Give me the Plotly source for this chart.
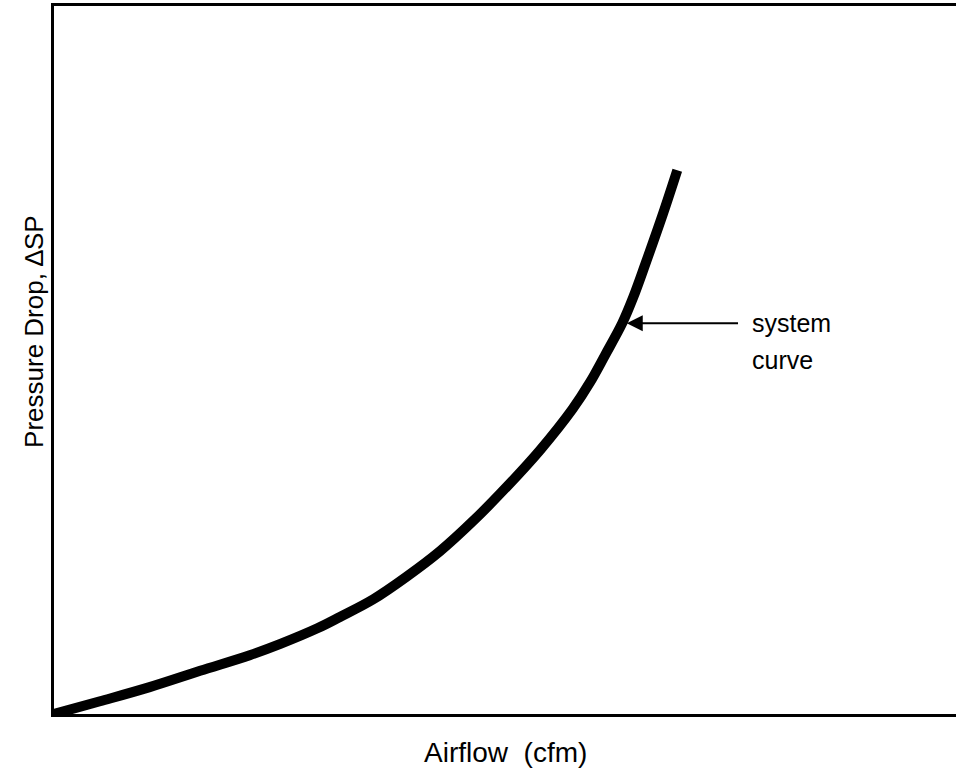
import plotly.graph_objects as go

# System curve: airflow (x, % of axis) vs pressure drop (y, % of axis)
airflow = [0.0, 5.1, 10.6, 16.2, 21.7, 25.1, 29.2, 31.7, 35.4, 39.1, 42.8, 46.5,
           50.2, 53.9, 57.5, 59.4, 61.1, 63.0, 64.2, 65.6, 67.5, 69.1]
pressure_drop = [0.0, 1.8, 3.8, 6.1, 8.3, 9.9, 12.1, 13.7, 16.2, 19.4, 23.0, 27.3,
                 32.1, 37.3, 43.1, 46.8, 50.7, 55.2, 58.8, 63.7, 70.6, 76.8]

x_title = "Airflow  (cfm)"
y_title = "Pressure Drop, ∆SP"
label_lines = ["system", "curve"]

FONT = "Liberation Sans, Arial, Helvetica, sans-serif"

fig = go.Figure()
fig.add_trace(go.Scatter(
    x=airflow, y=pressure_drop, mode="lines",
    line=dict(color="black", width=10, shape="spline", smoothing=1.0),
    hoverinfo="skip", showlegend=False,
))

# arrow pointing at the curve
fig.add_annotation(
    x=63.5, y=55.2, ax=76.0, ay=55.2, xref="x", yref="y", axref="x", ayref="y",
    text="", showarrow=True, arrowhead=2, arrowsize=1.6, arrowwidth=2,
    arrowcolor="black", standoff=0,
)
fig.add_annotation(x=77.2, y=55.2, xref="x", yref="y", text=label_lines[0],
                   showarrow=False, xanchor="left", yanchor="middle",
                   font=dict(family=FONT, size=25, color="black"))
fig.add_annotation(x=77.2, y=50.0, xref="x", yref="y", text=label_lines[1],
                   showarrow=False, xanchor="left", yanchor="middle",
                   font=dict(family=FONT, size=25, color="black"))

# axis titles
fig.add_annotation(x=0.5, y=-0.055, xref="paper", yref="paper", text=x_title,
                   showarrow=False, xanchor="center", yanchor="middle",
                   font=dict(family=FONT, size=28, color="black"))
fig.add_annotation(x=-0.0222, y=0.541, xref="paper", yref="paper", text=y_title,
                   showarrow=False, xanchor="center", yanchor="middle", textangle=-90,
                   font=dict(family=FONT, size=26, color="black"))

fig.update_xaxes(range=[0, 100], showgrid=False, zeroline=False, showticklabels=False,
                 ticks="", showline=True, linecolor="black", linewidth=3, mirror=True)
fig.update_yaxes(range=[0, 100], showgrid=False, zeroline=False, showticklabels=False,
                 ticks="", showline=True, linecolor="black", linewidth=3, mirror=False)

fig.update_layout(
    width=956, height=772,
    margin=dict(l=54, r=0, t=6, b=58),
    paper_bgcolor="white", plot_bgcolor="white",
    showlegend=False,
)

fig.write_html(
    "out.html",
    config={"displayModeBar": False},
    post_script="document.body.style.margin='0px';document.body.style.overflow='hidden';",
)
